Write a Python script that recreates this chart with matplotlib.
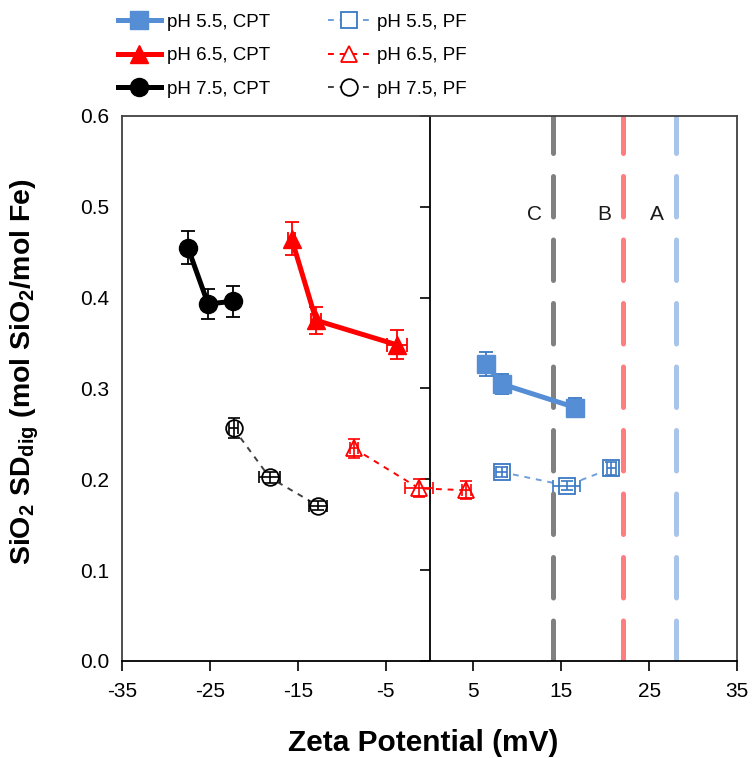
import matplotlib
matplotlib.use("Agg")
import matplotlib.pyplot as plt

plt.rcParams['font.family'] = ['Liberation Sans', 'DejaVu Sans']
plt.rcParams['mathtext.fontset'] = 'custom'
plt.rcParams['mathtext.bf'] = 'Liberation Sans:bold'
plt.rcParams['mathtext.rm'] = 'Liberation Sans'
plt.rcParams['mathtext.default'] = 'bf'
plt.rcParams['axes.unicode_minus'] = False

# CPT series (zeta potential mV, SiO2 SD_dig)
cpt55_x = [6.4, 8.2, 16.6]
cpt55_y = [0.327, 0.305, 0.279]
cpt55_yerr = [0.013, 0.011, 0.010]
cpt55_xerr = [0.5, 0.5, 0.5]

cpt65_x = [-15.7, -12.9, -3.7]
cpt65_y = [0.465, 0.375, 0.348]
cpt65_yerr = [0.018, 0.015, 0.016]
cpt65_xerr = [0.4, 0.6, 1.1]

cpt75_x = [-27.5, -25.2, -22.4]
cpt75_y = [0.455, 0.393, 0.396]
cpt75_yerr = [0.018, 0.017, 0.017]
cpt75_xerr = [0.4, 0.5, 0.5]

# PF series
pf55_x = [8.2, 15.6, 20.7]
pf55_y = [0.208, 0.193, 0.212]
pf55_yerr = [0.006, 0.005, 0.007]
pf55_xerr = [0.6, 1.5, 0.5]

pf65_x = [-8.6, -1.2, 4.2]
pf65_y = [0.234, 0.190, 0.188]
pf65_yerr = [0.010, 0.010, 0.010]
pf65_xerr = [0.5, 1.6, 0.5]

pf75_x = [-22.3, -18.2, -12.7]
pf75_y = [0.256, 0.202, 0.171]
pf75_yerr = [0.011, 0.006, 0.005]
pf75_xerr = [0.5, 1.2, 1.0]

# reference zeta lines
ref_labels = ["C", "B", "A"]
ref_x = [14, 22, 28]
ref_colors = ["#808080", "#ff7c80", "#a9c4ea"]

xticks = [-35, -25, -15, -5, 5, 15, 25, 35]
yticks = [0.0, 0.1, 0.2, 0.3, 0.4, 0.5, 0.6]

fig = plt.figure(figsize=(7.54, 7.58), dpi=100)
ax = fig.add_axes([0.1618, 0.128, 0.8157, 0.719])

# dashed reference lines
for lab, xv, c in zip(ref_labels, ref_x, ref_colors):
    ax.axvline(xv, color=c, lw=3.6, dashes=(8.1, 4.6), dash_capstyle='round', zorder=1)
    ax.text(xv - 2.1, 0.492, lab, ha='center', va='center', fontsize=15, color='#1a1a1a')

ax.axvline(0, color='black', lw=1.3, zorder=1.5)

blue = '#558ed5'
blue_dark = '#3a78c4'
red = '#ff0000'
black = '#000000'

handles = []
cpt_sets = [
    (cpt55_x, cpt55_y, cpt55_xerr, cpt55_yerr, blue, blue_dark, 's', 'pH 5.5, CPT'),
    (cpt65_x, cpt65_y, cpt65_xerr, cpt65_yerr, red, red, '^', 'pH 6.5, CPT'),
    (cpt75_x, cpt75_y, cpt75_xerr, cpt75_yerr, black, black, 'o', 'pH 7.5, CPT'),
]
for x, y, xe, ye, c, ec, m, lab in cpt_sets:
    h, = ax.plot(x, y, color=c, lw=3.6, marker=m, ms=13, mfc=c, mec=c, label=lab, zorder=3)
    ax.errorbar(x, y, yerr=ye, xerr=xe, fmt='none', ecolor=ec, elinewidth=1.3, capsize=5,
                capthick=1.3, zorder=2.5)
    handles.append(h)

pf_sets = [
    (pf55_x, pf55_y, pf55_xerr, pf55_yerr, '#6f9fdc', blue_dark, 's', 'pH 5.5, PF'),
    (pf65_x, pf65_y, pf65_xerr, pf65_yerr, red, red, '^', 'pH 6.5, PF'),
    (pf75_x, pf75_y, pf75_xerr, pf75_yerr, '#404040', black, 'o', 'pH 7.5, PF'),
]
for x, y, xe, ye, c, ec, m, lab in pf_sets:
    h, = ax.plot(x, y, color=c, lw=1.4, ls=(0, (3, 3)), marker=m, ms=12, mfc='white', mec=ec,
                 mew=1.3, label=lab, zorder=3)
    ax.errorbar(x, y, yerr=ye, xerr=xe, fmt='none', ecolor=ec, elinewidth=1.2, capsize=4,
                capthick=1.2, zorder=4)
    handles.append(h)

ax.set_xlim(-35, 35)
ax.set_ylim(0, 0.6)
ax.set_xticks(xticks)
ax.set_yticks(yticks)
ax.set_yticklabels([f"{v:.1f}" for v in yticks])
ax.tick_params(axis='x', direction='out', length=7, width=1.2, pad=8, labelsize=15)
ax.tick_params(axis='y', length=0, pad=9, labelsize=15)

for side in ['top', 'right', 'left']:
    ax.spines[side].set_color('#404040')
    ax.spines[side].set_linewidth(1.3)
ax.spines['bottom'].set_color('black')
ax.spines['bottom'].set_linewidth(1.3)

# y tick marks sit on the zero line
sec = ax.secondary_yaxis(0.5)
sec.set_yticks(yticks)
sec.spines['left'].set_visible(False)
sec.spines['right'].set_visible(False)
sec.yaxis.set_ticks_position('left')
sec.tick_params(axis='y', direction='out', length=7, width=1.2, labelleft=False, labelright=False)

ax.set_xlabel("Zeta Potential (mV)", fontsize=21.5, fontweight='bold')
ax.xaxis.set_label_coords(0.49, -0.124)
ax.set_ylabel(r"SiO$_2$ SD$_{dig}$ (mol SiO$_2$/mol Fe)", fontsize=20.5, fontweight='bold')
ax.yaxis.set_label_coords(-0.132, 0.53)

fig.legend(handles, [h.get_label() for h in handles],
           ncol=2, loc='upper left', bbox_to_anchor=(0.134, 1.004), frameon=False,
           fontsize=13.5, handlelength=2.3, handletextpad=0.3, columnspacing=3.1,
           labelspacing=0.87)

fig.savefig("out.png", dpi=100)
